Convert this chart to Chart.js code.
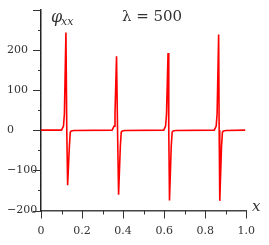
<!DOCTYPE html>
<html lang="en">
<head>
<meta charset="UTF-8">
<title>phi_xx, lambda = 500</title>
<script src="https://cdn.jsdelivr.net/npm/chart.js@4.4.0/dist/chart.umd.min.js"></script>
<style>
  html, body { margin: 0; padding: 0; background: #fff; }
  #wrap { width: 269px; height: 245px; }
</style>
</head>
<body>
<div id="wrap"><canvas id="phiChart" width="269" height="245"></canvas></div>
<script>
// values (x position, phi_xx)
var xVals = [0,
             0.100, 0.1095, 0.114, 0.1215, 0.1256, 0.1297, 0.1382, 0.1427, 0.1477, 0.160,
             0.3466, 0.356, 0.3605, 0.368, 0.373, 0.378, 0.3865, 0.391, 0.396, 0.408,
             0.598, 0.607, 0.6115, 0.619, 0.6225, 0.626, 0.6345, 0.639, 0.644, 0.656,
             0.844, 0.8535, 0.858, 0.8655, 0.868, 0.871, 0.8795, 0.884, 0.889, 0.901,
             0.995];
var phiVals = [0,
               0, 10, 40, 243, 0, -137, -40, -5, -2, -1,
               0, 10, 40, 184, 0, -161, -40, -5, -2, -1,
               0, 10, 40, 192, 0, -175, -40, -5, -2, -1,
               0, 10, 40, 238, 0, -176, -40, -5, -2, -1,
               0];
var xLabelled = [0, 0.2, 0.4, 0.6, 0.8, 1.0];
var yLabelled = [-200, -100, 0, 100, 200];
var titleText = 'λ = 500';

var serif = 'DejaVu Serif';
Chart.defaults.font.family = serif;
Chart.defaults.color = '#333';

function isLabelled(list, v) {
  return list.some(function (t) { return Math.abs(t - v) < 1e-6; });
}

// minor/major tick marks and the text labels inside the plot
var axisDecor = {
  id: 'axisDecor',
  afterDraw: function (chart) {
    var ctx = chart.ctx, xs = chart.scales.x, ys = chart.scales.y;
    ctx.save();
    ctx.strokeStyle = '#333';
    ctx.lineWidth = 1;
    ys.ticks.forEach(function (t) {
      var py = Math.round(ys.getPixelForValue(t.value)) + 0.5;
      var len = (Math.round(t.value) % 100 === 0) ? 8 : 3;
      ctx.beginPath(); ctx.moveTo(ys.right - len, py); ctx.lineTo(ys.right, py); ctx.stroke();
    });
    xs.ticks.forEach(function (t) {
      var px = Math.round(xs.getPixelForValue(t.value)) + 0.5;
      var len = (Math.round(t.value * 10) % 2 === 0) ? 8 : 4;
      ctx.beginPath(); ctx.moveTo(px, xs.top); ctx.lineTo(px, xs.top + len); ctx.stroke();
    });

    ctx.fillStyle = '#333';
    ctx.textBaseline = 'alphabetic';
    ctx.textAlign = 'center';
    ctx.font = '15px "' + serif + '"';
    ctx.fillText(titleText, 152, 21);

    ctx.textAlign = 'left';
    ctx.font = 'italic 16px "' + serif + '"';
    ctx.fillText('φ', 51, 22);
    ctx.font = 'italic 11px "' + serif + '"';
    ctx.fillText('xx', 61, 25);

    ctx.font = 'italic 15px "' + serif + '"';
    ctx.fillText('x', 252, 211);
    ctx.restore();
  }
};

var points = xVals.map(function (x, i) { return { x: x, y: phiVals[i] }; });

new Chart(document.getElementById('phiChart'), {
  type: 'line',
  data: {
    datasets: [{
      data: points,
      borderColor: '#ff0000',
      borderWidth: 1.6,
      pointRadius: 0,
      tension: 0,
      fill: false
    }]
  },
  options: {
    responsive: false,
    animation: false,
    layout: { padding: { left: 7, right: 22, top: 6.5, bottom: 0 } },
    plugins: { legend: { display: false }, tooltip: { enabled: false } },
    scales: {
      x: {
        type: 'linear',
        min: 0,
        max: 1,
        afterFit: function (s) { s.height = 34.5; },
        grid: { drawOnChartArea: false, drawTicks: false },
        border: { color: '#444', width: 1.5 },
        ticks: {
          stepSize: 0.1,
          autoSkip: false,
          maxRotation: 0,
          padding: 14,
          font: { size: 11 },
          callback: function (v) {
            if (!isLabelled(xLabelled, v)) return '';
            return v === 0 ? '0' : v.toFixed(1);
          }
        }
      },
      y: {
        min: -200,
        max: 300,
        afterFit: function (s) { s.width = 34; },
        grid: { drawOnChartArea: false, drawTicks: false },
        border: { color: '#222', width: 1.5 },
        ticks: {
          stepSize: 50,
          autoSkip: false,
          crossAlign: 'far',
          font: { size: 11 },
          callback: function (v) {
            if (!isLabelled(yLabelled, v)) return '';
            return v < 0 ? '\u2212' + Math.abs(v) : String(v);
          }
        }
      }
    }
  },
  plugins: [axisDecor]
});
</script>
</body>
</html>
